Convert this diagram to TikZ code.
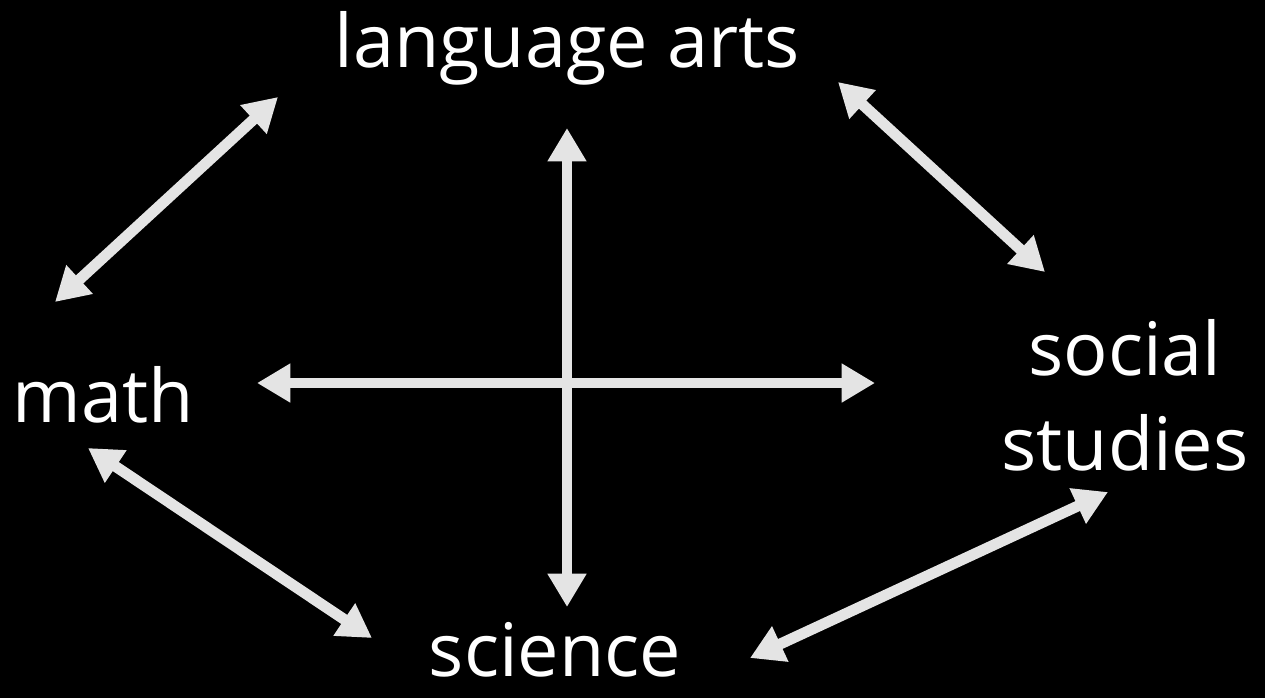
\documentclass[tikz,border=0pt]{standalone}
\usepackage{fontspec}
\setmainfont{Open Sans}
\usetikzlibrary{arrows.meta}
\definecolor{boardBlack}{HTML}{000000}
\definecolor{linkGrey}{HTML}{E4E4E4}

\begin{document}
\begin{tikzpicture}[x=0.02cm, y=-0.02cm,
    subj/.style={text=white, align=center, inner sep=0pt,
      font=\fontsize{42}{54}\selectfont},
    link/.style={draw=linkGrey, line width=6.2pt,
      {Triangle[length=19pt,width=21pt]}-{Triangle[length=19pt,width=21pt]}}]
  % fondo
  \fill[boardBlack] (0,0) rectangle (1265,698);
  % materias
  \node[subj] (lang) at (567,48) {language arts};
  \node[subj] (math) at (103,395) {math};
  \node[subj] (soc) at (1125,395) {social\\studies};
  \node[subj] (sci) at (555,650) {science};
  % extremos de las flechas
  \coordinate (mlA) at (55,302);
  \coordinate (mlB) at (278,97);
  \coordinate (lsA) at (838,82);
  \coordinate (lsB) at (1045,272);
  \coordinate (vT) at (567,128);
  \coordinate (vB) at (567,607);
  \coordinate (hL) at (257,383);
  \coordinate (hR) at (875,383);
  \coordinate (msA) at (88,448);
  \coordinate (msB) at (372,638);
  \coordinate (ssA) at (1108,492);
  \coordinate (ssB) at (750,658);
  % flechas
  \draw[link] (mlA) -- (mlB);
  \draw[link] (lsA) -- (lsB);
  \draw[link] (vT) -- (vB);
  \draw[link] (hL) -- (hR);
  \draw[link] (msA) -- (msB);
  \draw[link] (ssA) -- (ssB);
\end{tikzpicture}
\end{document}
